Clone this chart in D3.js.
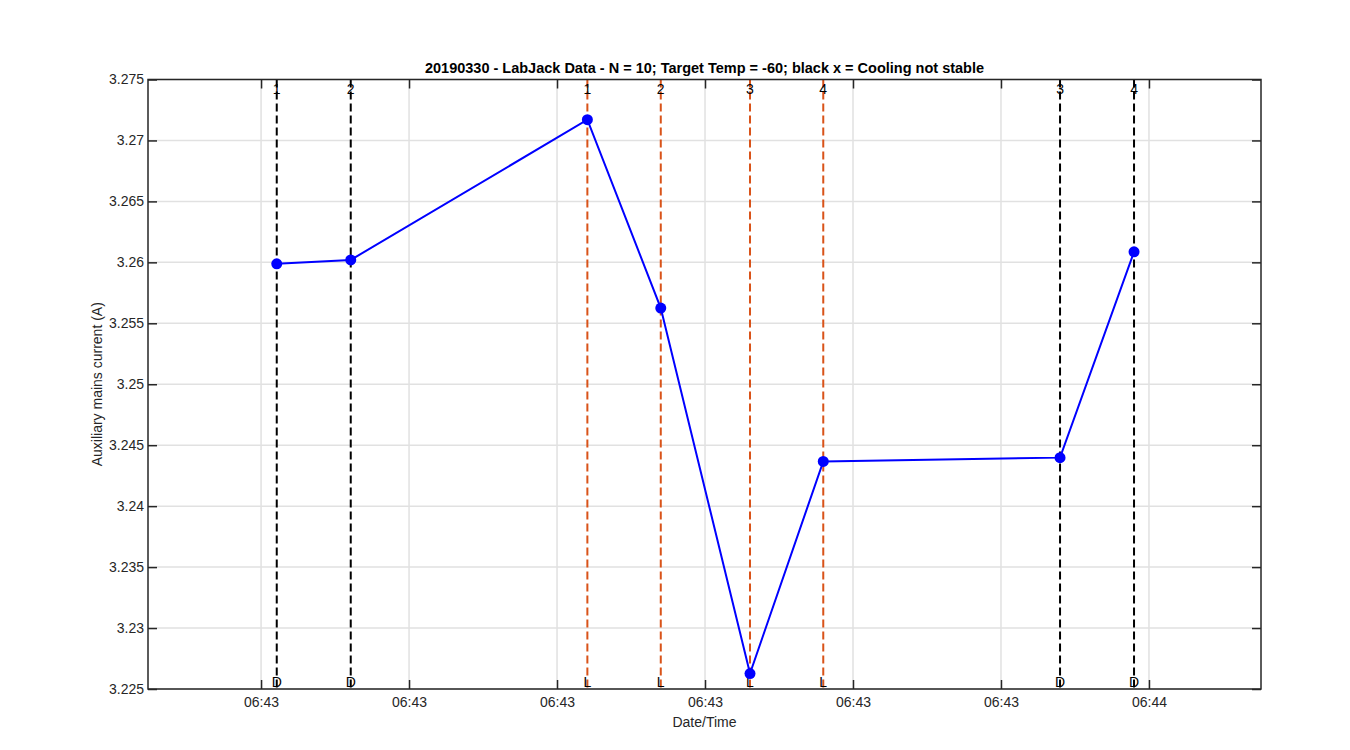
<!DOCTYPE html>
<html><head><meta charset="utf-8">
<script src="https://cdn.jsdelivr.net/npm/d3@7"></script>
<style>body{margin:0;background:#fff;} svg{display:block;font-family:"Liberation Sans",Arial,sans-serif;}</style>
</head><body><svg id="c" width="1350" height="750"></svg>
<script>
const times = ["06:43:01.06","06:43:06.06","06:43:22.05","06:43:27.01","06:43:33.04","06:43:37.99","06:43:53.99","06:43:58.99"];
const values = [3.25988, 3.2602, 3.2717, 3.25625, 3.22627, 3.24367, 3.24398, 3.26086];
const topLabels = ["1","2","1","2","3","4","3","4"];
const bottomLabels = ["D","D","L","L","L","L","D","D"];
const xTicks = ["06:43:00","06:43:10","06:43:20","06:43:30","06:43:40","06:43:50","06:44:00"];
const yTicks = [3.225,3.23,3.235,3.24,3.245,3.25,3.255,3.26,3.265,3.27,3.275];
const xDomain = ["06:42:52.36","06:44:07.57"];
const yDomain = [3.225, 3.275];
const title = "20190330 - LabJack Data - N = 10; Target Temp = -60; black x = Cooling not stable";

const parseFull = d3.timeParse("%Y-%m-%d %H:%M:%S.%L");
const parse = s => {
  let [hms, frac] = s.split(".");
  frac = ((frac || "") + "000").slice(0, 3);
  return parseFull("2019-03-30 " + hms + "." + frac);
};
const L = 148, R = 1261, T = 79.5, B = 689;
const FS = 14;
const svg = d3.select("#c");
const x = d3.scaleTime().domain(xDomain.map(parse)).range([L, R]);
const y = d3.scaleLinear().domain(yDomain).range([B, T]);
const fmt = d3.timeFormat("%H:%M");
const axisColor = "#262626";

// grid
const g = svg.append("g");
g.selectAll(".gx").data(xTicks.map(parse)).join("line")
  .attr("x1", d => x(d)).attr("x2", d => x(d)).attr("y1", T).attr("y2", B)
  .attr("stroke", "#e1e1e1").attr("stroke-width", 1.5);
g.selectAll(".gy").data(yTicks).join("line")
  .attr("x1", L).attr("x2", R).attr("y1", d => y(d)).attr("y2", d => y(d))
  .attr("stroke", "#e1e1e1").attr("stroke-width", 1.5);

// vertical dashed markers
const ev = times.map((t, i) => ({t: parse(t), top: topLabels[i], bot: bottomLabels[i]}));
const col = d => d.bot === "L" ? "#D95319" : "#000000";
svg.selectAll(".ev").data(ev).join("line")
  .attr("x1", d => x(d.t)).attr("x2", d => x(d.t)).attr("y1", T).attr("y2", B)
  .attr("stroke", col).attr("stroke-width", 2).attr("stroke-dasharray", "8,4");
svg.selectAll(".evt").data(ev).join("text")
  .attr("x", d => x(d.t)).attr("y", T + 14).attr("text-anchor", "middle")
  .attr("font-size", FS).attr("fill", "#000").text(d => d.top);
svg.selectAll(".evb").data(ev).join("text")
  .attr("x", d => x(d.t)).attr("y", B - 2).attr("text-anchor", "middle")
  .attr("font-size", FS).attr("fill", "#000").text(d => d.bot);

// axes
const xa = svg.append("g").attr("transform", `translate(0,${B})`)
  .call(d3.axisBottom(x).tickValues(xTicks.map(parse)).tickFormat(fmt).tickSizeInner(-9).tickSizeOuter(0).tickPadding(8));
const xt = svg.append("g").attr("transform", `translate(0,${T})`)
  .call(d3.axisTop(x).tickValues(xTicks.map(parse)).tickFormat("").tickSizeInner(-9).tickSizeOuter(0));
const ya = svg.append("g").attr("transform", `translate(${L},0)`)
  .call(d3.axisLeft(y).tickValues(yTicks).tickFormat(d3.format("")).tickSizeInner(-9).tickSizeOuter(0).tickPadding(4));
const yr = svg.append("g").attr("transform", `translate(${R},0)`)
  .call(d3.axisRight(y).tickValues(yTicks).tickFormat("").tickSizeInner(-9).tickSizeOuter(0));
[xa, xt, ya, yr].forEach(a => {
  a.attr("font-size", FS).attr("font-family", "Liberation Sans, Arial, sans-serif");
  a.select(".domain").remove();
  a.selectAll("line").attr("stroke", axisColor).attr("stroke-width", 1.5);
  a.selectAll("text").attr("fill", axisColor).attr("font-size", FS);
});
svg.append("rect").attr("x", L).attr("y", T).attr("width", R - L).attr("height", B - T)
  .attr("fill", "none").attr("stroke", axisColor).attr("stroke-width", 1.5);

// data line
const pts = times.map((t, i) => ({t: parse(t), v: values[i]}));
svg.append("path").datum(pts)
  .attr("d", d3.line().x(d => x(d.t)).y(d => y(d.v)))
  .attr("fill", "none").attr("stroke", "#0000ff").attr("stroke-width", 2);
svg.selectAll(".pt").data(pts).join("circle")
  .attr("cx", d => x(d.t)).attr("cy", d => y(d.v)).attr("r", 5.5).attr("fill", "#0000ff");

// labels
svg.append("text").attr("x", (L + R) / 2).attr("y", 73).attr("text-anchor", "middle")
  .attr("font-size", 14.5).attr("font-weight", "bold").attr("fill", "#000").text(title);
svg.append("text").attr("x", (L + R) / 2).attr("y", 727).attr("text-anchor", "middle")
  .attr("font-size", FS).attr("fill", axisColor).text("Date/Time");
svg.append("text").attr("transform", `translate(102,${(T + B) / 2}) rotate(-90)`).attr("text-anchor", "middle")
  .attr("font-size", FS).attr("fill", axisColor).text("Auxiliary mains current (A)");
</script></body></html>
